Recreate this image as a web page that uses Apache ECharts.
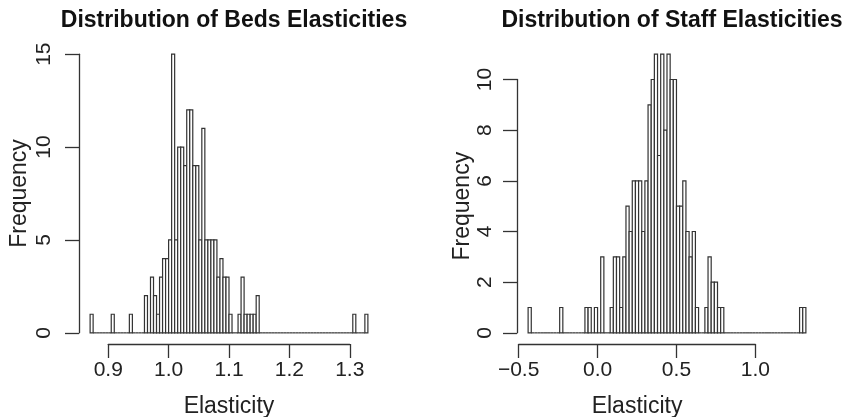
<!DOCTYPE html>
<html>
<head>
<meta charset="utf-8">
<title>Elasticities</title>
<script src="https://cdn.jsdelivr.net/npm/echarts@6/dist/echarts.min.js"></script>
<style>
    html, body { margin: 0; padding: 0; background: #fff; }
    #main { width: 846px; height: 417px; }
</style>
</head>
<body>
<div id="main"></div>
<script>
// beds histogram: first break, bin width, count in each bin
var bedsStart = 0.87;
var bedsBin = 0.005;
var bedsCounts = [
    1, 0, 0, 0, 0, 0, 0, 1, 0, 0, 0, 0, 0, 1, 0, 0, 0, 0,
    2, 0, 3, 2, 1, 3, 4, 4, 5, 15, 5, 10, 10, 9, 12, 12, 9, 9, 5, 11,
    5, 5, 5, 5, 3, 4, 3, 3, 1, 0, 0, 1, 3, 1, 1, 1, 1, 2,
    0, 0, 0, 0, 0, 0, 0, 0, 0, 0, 0, 0, 0, 0, 0, 0, 0, 0, 0, 0, 0, 0, 0, 0, 0, 0, 0, 0, 0, 0, 0,
    1, 0, 0, 0, 1
];
var bedsXTicks = [0.9, 1.0, 1.1, 1.2, 1.3];
var bedsYTicks = [0, 5, 10, 15];

// staff histogram
var staffStart = -0.44;
var staffBin = 0.02;
var staffCounts = [
    1, 0, 0, 0, 0, 0, 0, 0, 0, 0, 1, 0, 0, 0, 0, 0, 0, 0,
    1, 1, 0, 1, 0, 3, 0, 0, 1, 3, 3, 1, 3, 5, 4, 6, 6, 6, 4, 6,
    9, 10, 11, 7, 11, 8, 11, 10, 10, 5, 5, 6, 4, 3, 4, 1, 0, 0, 1, 3, 2, 2, 1, 1,
    0, 0, 0, 0, 0, 0, 0, 0, 0, 0, 0, 0, 0, 0, 0, 0, 0, 0, 0, 0, 0, 0, 0, 0,
    1, 1
];
var staffXTicks = [-0.5, 0.0, 0.5, 1.0];
var staffYTicks = [0, 2, 4, 6, 8, 10];

var panelTitles = ['Distribution of Beds Elasticities', 'Distribution of Staff Elasticities'];
var xName = 'Elasticity';
var yName = 'Frequency';

var FONT = '"Liberation Sans", Arial, Helvetica, sans-serif';
var INK = '#333';
var plotLeft = [79, 517];
var labelGap = [24, 21];   // y tick label distance per panel
var yNameGap = [48, 42];   // "Frequency" distance per panel
var plotTop = 43;
var plotW = 300;
var plotH = 301;

var option = {
    animation: false,
    title: [],
    grid: [],
    xAxis: [],
    yAxis: [],
    series: []
};

function fmtX(v) {
    return v.toFixed(1).replace('-', '\u2212');
}

function renderBar(params, api) {
    var a = api.value(0), b = api.value(1), c = api.value(2);
    var p0 = api.coord([a, c]);
    var p1 = api.coord([b, 0]);
    if (c === 0) {
        return {
            type: 'line',
            shape: { x1: p0[0], y1: p1[1], x2: p1[0], y2: p1[1] },
            style: { stroke: INK, lineWidth: 1.2 }
        };
    }
    return {
        type: 'rect',
        shape: { x: p0[0], y: p0[1], width: p1[0] - p0[0], height: p1[1] - p0[1] },
        style: { fill: '#fff', stroke: INK, lineWidth: 1.2 }
    };
}

function addPanel(i, start, bin, counts, xTicks, yTicks) {
    var left = plotLeft[i];
    var xa = start, xb = start + counts.length * bin;
    var ymax = Math.max.apply(null, counts);
    // R style usr region: 4% padding on every side
    var ux0 = xa - 0.04 * (xb - xa), ux1 = xb + 0.04 * (xb - xa);
    var uy0 = -0.04 * ymax, uy1 = ymax * 1.04;

    var data = [];
    for (var k = 0; k < counts.length; k++) {
        data.push([start + k * bin, start + (k + 1) * bin, counts[k]]);
    }

    // grid holding the bars
    option.grid.push({ left: left, top: plotTop, width: plotW, height: plotH, outerBoundsMode: 'none', containLabel: false });
    option.xAxis.push({ gridIndex: 2 * i, type: 'value', min: ux0, max: ux1, show: false });
    option.yAxis.push({ gridIndex: 2 * i, type: 'value', min: uy0, max: uy1, show: false });
    option.series.push({
        type: 'custom',
        xAxisIndex: 2 * i,
        yAxisIndex: 2 * i,
        clip: false,
        silent: true,
        renderItem: renderBar,
        data: data
    });

    // grid that only spans the tick range, like R's axis()
    var tx0 = xTicks[0], tx1 = xTicks[xTicks.length - 1];
    var ty0 = yTicks[0], ty1 = yTicks[yTicks.length - 1];
    var gx0 = left + (tx0 - ux0) / (ux1 - ux0) * plotW;
    var gx1 = left + (tx1 - ux0) / (ux1 - ux0) * plotW;
    var gy0 = plotTop + plotH - (ty0 - uy0) / (uy1 - uy0) * plotH;
    var gy1 = plotTop + plotH - (ty1 - uy0) / (uy1 - uy0) * plotH;
    option.grid.push({
        left: gx0, top: gy1, width: gx1 - gx0, height: gy0 - gy1,
        outerBoundsMode: 'none', containLabel: false
    });

    var tick = { show: true, length: 14, lineStyle: { color: INK, width: 1.3 } };
    option.xAxis.push({
        gridIndex: 2 * i + 1,
        type: 'value',
        position: 'bottom',
        offset: plotTop + plotH - gy0,
        min: tx0,
        max: tx1,
        interval: xTicks[1] - xTicks[0],
        axisLine: { show: true, onZero: false, lineStyle: { color: INK, width: 1.3 } },
        axisTick: tick,
        axisLabel: { margin: 16, fontSize: 21, color: '#222', fontFamily: FONT, formatter: fmtX },
        splitLine: { show: false },
        name: xName,
        nameLocation: 'middle',
        nameGap: 51,
        nameTextStyle: { fontSize: 23, color: '#222', fontFamily: FONT }
    });
    option.yAxis.push({
        gridIndex: 2 * i + 1,
        type: 'value',
        position: 'left',
        offset: gx0 - left,
        min: ty0,
        max: ty1,
        interval: yTicks[1] - yTicks[0],
        axisLine: { show: true, onZero: false, lineStyle: { color: INK, width: 1.3 } },
        axisTick: tick,
        axisLabel: { rotate: 90, margin: labelGap[i], fontSize: 21, color: '#222', fontFamily: FONT },
        splitLine: { show: false },
        name: yName,
        nameLocation: 'middle',
        nameRotate: 90,
        nameGap: yNameGap[i],
        nameTextStyle: { fontSize: 23, color: '#222', fontFamily: FONT }
    });

    option.title.push({
        text: panelTitles[i],
        left: left + plotW / 2,
        top: 4,
        textAlign: 'center',
        textStyle: { fontSize: 23, fontWeight: 'bold', color: '#111', fontFamily: FONT }
    });
}

addPanel(0, bedsStart, bedsBin, bedsCounts, bedsXTicks, bedsYTicks);
addPanel(1, staffStart, staffBin, staffCounts, staffXTicks, staffYTicks);

var myChart = echarts.init(document.getElementById('main'), null, { renderer: 'canvas' });
myChart.setOption(option);
</script>
</body>
</html>
